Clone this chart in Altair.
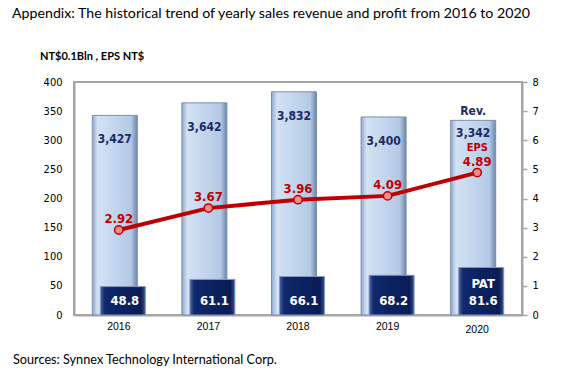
import altair as alt
import pandas as pd

years = ["2016", "2017", "2018", "2019", "2020"]
revenue = [3427, 3642, 3832, 3400, 3342]      # NT$ million (shown as 0.1 Bln on axis)
pat = [48.8, 61.1, 66.1, 68.2, 81.6]
eps = [2.92, 3.67, 3.96, 4.09, 4.89]
left_ticks = [0, 50, 100, 150, 200, 250, 300, 350, 400]
right_ticks = [0, 1, 2, 3, 4, 5, 6, 7, 8]

title_text = "Appendix: The historical trend of yearly sales revenue and profit from 2016 to 2020"
unit_text = "NT$0.1Bln , EPS NT$"
source_text = "Sources: Synnex Technology International Corp."

df = pd.DataFrame({"year": years, "revenue": revenue, "pat": pat, "eps": eps})
df["rev_s"] = df["revenue"] / 10.0

W, H = 448, 233
AXF = "DejaVu Sans Condensed, Liberation Sans, sans-serif"
LBF = "DejaVu Sans Condensed, DejaVu Sans, sans-serif"

x_axis = alt.Axis(title=None, labelAngle=0, ticks=False, domainColor="#a6a6a6",
                  domainWidth=2, labelFont="Liberation Sans", labelFontSize=10.5,
                  labelColor="#000000",
                  labelPadding=alt.ExprRef("datum.value == '2020' ? 9 : 6"))
x_enc = alt.X("year:N", sort=years, scale=alt.Scale(paddingInner=0.4, paddingOuter=0.2),
              axis=x_axis)
yl_scale = alt.Scale(domain=[0, 400], nice=False)
yr_scale = alt.Scale(domain=[0, 8], nice=False)
left_axis = alt.Axis(title=None, values=left_ticks, grid=False, ticks=False, tickSize=0,
                     labelPadding=12, domainColor="#a6a6a6", domainWidth=2,
                     labelFont=AXF, labelFontSize=11, labelColor="#000000")
right_axis = alt.Axis(title=None, orient="right", values=right_ticks, grid=False,
                      ticks=True, tickSize=5, tickColor="#a6a6a6", tickWidth=1.5,
                      labelPadding=5, domainColor="#a6a6a6", domainWidth=2,
                      labelFont=AXF, labelFontSize=11, labelColor="#000000")


def yl(field):
    return alt.Y(field, scale=yl_scale, axis=left_axis)


def yr(field):
    return alt.Y(field, scale=yr_scale, axis=right_axis)


base = alt.Chart(df)

rev_grad = alt.Gradient(
    gradient="linear", x1=0, x2=1, y1=0, y2=0,
    stops=[alt.GradientStop(color="#8ea9cf", offset=0),
           alt.GradientStop(color="#d3e2f4", offset=0.12),
           alt.GradientStop(color="#c3d6ee", offset=0.5),
           alt.GradientStop(color="#b3c9e5", offset=0.86),
           alt.GradientStop(color="#6d86a8", offset=1)])
pat_grad = alt.Gradient(
    gradient="linear", x1=0, x2=1, y1=0, y2=0,
    stops=[alt.GradientStop(color="#4a62a0", offset=0),
           alt.GradientStop(color="#10296c", offset=0.1),
           alt.GradientStop(color="#0b2160", offset=0.5),
           alt.GradientStop(color="#0a1d56", offset=0.9),
           alt.GradientStop(color="#3a5290", offset=1)])

rev_bars = base.mark_bar(size=45, xOffset=-4, color=rev_grad, stroke="#7d8ea8",
                         strokeWidth=1).encode(x=x_enc, y=yl("rev_s:Q"))

pat_bars = base.mark_bar(size=45, xOffset=4, color=pat_grad, stroke="#8797bd",
                         strokeWidth=1).encode(x=x_enc, y=yl("pat:Q"))

rev_labels = base.transform_calculate(
    label_y="datum.rev_s - (datum.year == '2020' ? 21 : 41)",
    label_t="format(datum.revenue, ',')").mark_text(
    font=LBF, fontSize=12, fontWeight="bold", color="#1b2a63", dx=-4, baseline="middle").encode(
    x=x_enc, y=yl("label_y:Q"), text="label_t:N")

pat_labels = base.transform_calculate(zero="0").mark_text(
    font=LBF, fontSize=13, fontWeight="bold", color="#ffffff",
    dx=6, dy=-14, baseline="middle").encode(
    x=x_enc, y=yl("zero:Q"), text=alt.Text("pat:Q", format=".1f"))

last = pd.DataFrame({"year": [years[-1]], "rev_s": [revenue[-1] / 10.0], "eps": [eps[-1]],
                     "zero": [0]})
rev_tag = alt.Chart(last).mark_text(text="Rev.", font=LBF, fontSize=12, fontWeight="bold",
                                    color="#1b2a63", dx=-4, dy=-9, baseline="middle").encode(
    x=x_enc, y=yl("rev_s:Q"))
pat_tag = alt.Chart(last).mark_text(text="PAT", font=LBF, fontSize=13, fontWeight="bold",
                                    color="#ffffff", dx=6, dy=-31, baseline="middle").encode(
    x=x_enc, y=yl("zero:Q"))

title_mark = alt.Chart(pd.DataFrame({"t": [title_text]})).mark_text(
    font="Lato", fontSize=14.2, align="left", baseline="middle", color="#000000").encode(
    text="t:N", x=alt.value(-62), y=alt.value(-68))
unit_mark = alt.Chart(pd.DataFrame({"t": [unit_text]})).mark_text(
    font="Lato", fontSize=11, fontWeight="bold", align="left", baseline="middle",
    color="#000000").encode(text="t:N", x=alt.value(-34), y=alt.value(-25))
source_mark = alt.Chart(pd.DataFrame({"t": [source_text]})).mark_text(
    font="Lato", fontSize=12.7, align="left", baseline="middle", color="#000000").encode(
    text="t:N", x=alt.value(-61), y=alt.value(45 + H))

left = alt.layer(rev_bars, pat_bars, rev_labels, pat_labels, rev_tag, pat_tag,
                 title_mark, unit_mark, source_mark)

eps_line = base.mark_line(color="#c00000", strokeWidth=4,
                          point=alt.OverlayMarkDef(filled=True, fill="#ee8c8c", stroke="#c00000",
                                                   strokeWidth=1.5, size=70, opacity=1)).encode(
    x=x_enc, y=yr("eps:Q"))
eps_labels = base.mark_text(font=LBF, fontSize=13, fontWeight="bold", color="#c00000",
                            dy=-11, baseline="middle").encode(
    x=x_enc, y=yr("eps:Q"), text=alt.Text("eps:Q", format=".2f"))
eps_tag = alt.Chart(last).mark_text(text="EPS", font=LBF, fontSize=11, fontWeight="bold",
                                    color="#c00000", dy=-25, baseline="middle").encode(
    x=x_enc, y=yr("eps:Q"))

right = alt.layer(eps_line, eps_labels, eps_tag)

chart = alt.layer(left, right).resolve_scale(y="independent").properties(
    width=W, height=H,
    autosize=alt.AutoSizeParams(type="none"),
    padding={"left": 74, "top": 82, "right": 61, "bottom": 62},
    background="#ffffff",
).configure_view(stroke="#a6a6a6", strokeWidth=2)

chart.save("out.html", embed_options={"renderer": "svg", "actions": False})
